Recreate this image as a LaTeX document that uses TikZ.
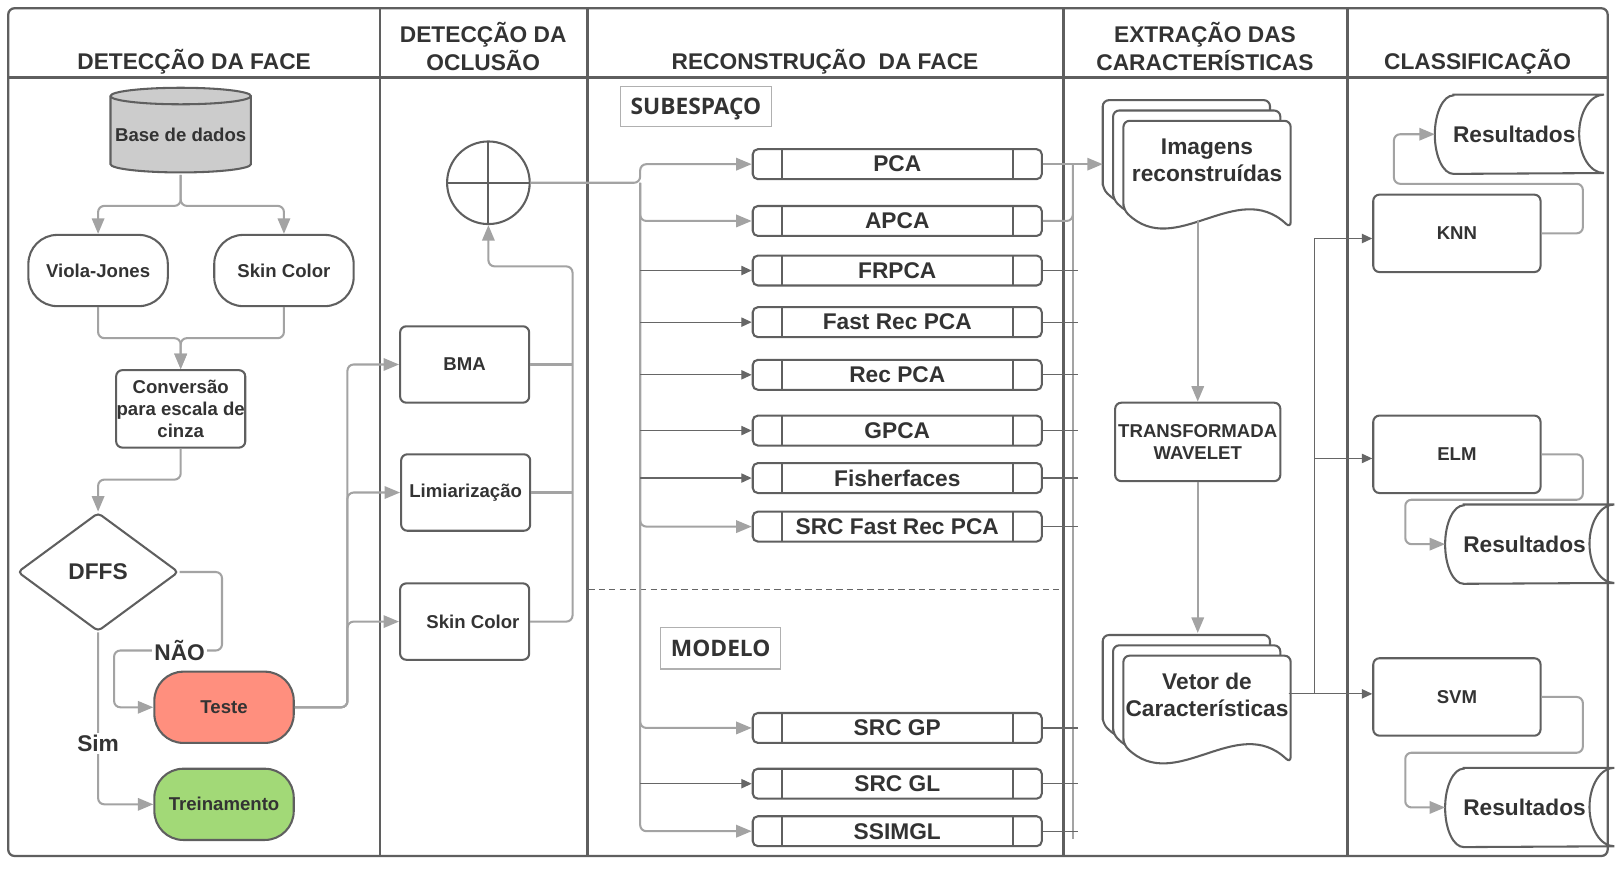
\documentclass[tikz,border=0pt]{standalone}
\usepackage{fontspec}
\setmainfont{Liberation Sans}
\newfontfamily\tagfont{Open Sans}
\usepackage{tikz}
\usetikzlibrary{shapes.geometric,arrows.meta}
\definecolor{txtgray}{HTML}{333333}
\definecolor{boxgray}{HTML}{5F5F5F}
\definecolor{conngray}{HTML}{A3A3A3}
\definecolor{darkline}{HTML}{666666}
\definecolor{tagline}{HTML}{B0B0B0}
\definecolor{dbfill}{HTML}{CCCCCC}
\definecolor{testefill}{HTML}{FF8F7E}
\definecolor{treinfill}{HTML}{A2D977}
\newcommand{\smallf}{\fontsize{9}{10.5}\selectfont\bfseries}
\newcommand{\bigf}{\fontsize{11}{13.5}\selectfont\bfseries}
\newcommand{\docpage}[2]{\draw[docline] (#1,#2+86) -- (#1,#2) -- (#1+162,#2) -- (#1+162,#2+104) .. controls (#1+110,#2+55) and (#1+50,#2+135) .. (#1,#2+86) -- cycle;}
\tikzstyle{frameline}=[draw=boxgray, line width=1.1pt]
\tikzstyle{boxline}=[draw=boxgray, line width=1pt]
\tikzstyle{docline}=[draw=boxgray, line width=1pt, fill=white, rounded corners=3pt]
\tikzstyle{conn}=[draw=conngray, line width=1pt, rounded corners=3pt, -{Triangle[length=7.5pt,width=6pt]}]
\tikzstyle{plainline}=[draw=conngray, line width=1pt, rounded corners=3pt]
\tikzstyle{thinarrow}=[draw=darkline, line width=0.6pt, -{Triangle[length=5pt,width=4.5pt]}]
\tikzstyle{thinline}=[draw=darkline, line width=0.6pt]
\tikzstyle{dashline}=[draw=darkline, line width=0.5pt, dash pattern=on 3pt off 2pt]
\tikzstyle{headtext}=[text=txtgray, font=\bigf, align=center, inner sep=0pt]

\begin{document}
\begin{tikzpicture}[x=0.5pt, y=-0.5pt]
\tikzstyle{plainbox}=[shape=rectangle, draw=boxgray, line width=1pt, rounded corners=3pt, minimum width=62.5pt, minimum height=37pt, inner sep=0pt, align=center, text=txtgray, font=\smallf]
\tikzstyle{stadium}=[shape=rectangle, draw=boxgray, line width=1pt, rounded corners=14pt, minimum width=67.5pt, minimum height=34.5pt, inner sep=0pt, text=txtgray, font=\smallf]
\tikzstyle{decision}=[shape=diamond, aspect=1.357, draw=boxgray, line width=1pt, rounded corners=2pt, minimum width=78pt, minimum height=57.5pt, inner sep=0pt, text=txtgray, font=\bigf]
\tikzstyle{sumnode}=[shape=circle, draw=boxgray, line width=1pt, minimum size=40pt, inner sep=0pt, path picture={\draw[boxgray, line width=1pt] (path picture bounding box.north) -- (path picture bounding box.south) (path picture bounding box.west) -- (path picture bounding box.east);}]
\tikzstyle{procbox}=[shape=rectangle, draw=boxgray, line width=1pt, rounded corners=2.5pt, minimum width=140pt, minimum height=14.5pt, inner sep=0pt, text=txtgray, font=\bigf, path picture={\draw[boxgray, line width=1pt] ([xshift=14pt]path picture bounding box.north west) -- ([xshift=14pt]path picture bounding box.south west) ([xshift=-14pt]path picture bounding box.north east) -- ([xshift=-14pt]path picture bounding box.south east);}]
\tikzstyle{tagbox}=[shape=rectangle, draw=tagline, line width=0.6pt, minimum width=73pt, minimum height=19.5pt, inner sep=0pt, text height=7.9pt, text depth=0pt, text=txtgray, font={\tagfont\fontsize{11}{13}\selectfont\bfseries}]
\tikzstyle{doctext}=[align=center, inner sep=0pt, text=txtgray, font={\fontsize{11}{13}\selectfont\bfseries}]
\tikzstyle{restext}=[shape=rectangle, minimum width=81.5pt, minimum height=38pt, inner sep=0pt, text=txtgray, font=\bigf]
\tikzstyle{lbl}=[fill=white, inner sep=1pt, text=txtgray, font=\bigf]
\useasboundingbox (0,0) rectangle (1568,841);
\draw[frameline, rounded corners=3pt] (8,8) rectangle (1557,829);
\draw[frameline] (8,75) -- (1557,75);
\draw[frameline] (368,8) -- (368,829);
\draw[frameline] (569,8) -- (569,829);
\draw[frameline] (1030,8) -- (1030,829);
\draw[frameline] (1305,8) -- (1305,829);
\node[headtext] (h1) at (188,60) {DETECÇÃO DA FACE};
\node[headtext] (h2) at (468,45) {DETECÇÃO DA\\OCLUSÃO};
\node[headtext] (h3) at (799,60) {RECONSTRUÇÃO~ DA FACE};
\node[headtext] (h4) at (1167,45) {EXTRAÇÃO DAS\\CARACTERÍSTICAS};
\node[headtext] (h5) at (1431,60) {CLASSIFICAÇÃO};

\draw[boxline, fill=dbfill] (107,93) -- (107,159) arc[start angle=180, end angle=360, x radius=34pt, y radius=4pt] -- (243,93) arc[start angle=0, end angle=180, x radius=34pt, y radius=4pt] -- cycle;
\draw[boxline] (107,93) arc[start angle=180, end angle=360, x radius=34pt, y radius=4pt];
\node[shape=rectangle, minimum width=68pt, minimum height=29pt, inner sep=0pt, text=txtgray, font=\smallf] (db) at (175,131) {Base de dados};
\node[stadium] (vj) at (95,262) {Viola-Jones};
\node[stadium] (skin1) at (275,262) {Skin Color};
\node[plainbox, minimum height=37.5pt] (conv) at (175,396) {Conversão\\para escala de\\cinza};
\node[decision] (dffs) at (95,554) {DFFS};
\node[stadium, fill=testefill] (teste) at (217,685) {Teste};
\node[stadium, fill=treinfill] (trein) at (217,779) {Treinamento};
\draw[conn] ([yshift=-4.5pt]db.south) -- ++(0,30) -| (vj.north);
\draw[conn] ([yshift=-4.5pt]db.south) -- ++(0,30) -| (skin1.north);
\draw[conn] (vj.south) -- ++(0,30) -| (conv.north);
\draw[conn] (skin1.south) -- ++(0,30) -| (conv.north);
\draw[conn] (conv.south) -- ++(0,30) -| (dffs.north);
\draw[conn] (dffs.east) -| ++(41,76) -| ([xshift=-19pt]teste.west) -- (teste.west);
\draw[conn] (dffs.south) |- (trein.west);
\node[lbl] (nao) at (174,630) {NÃO};
\node[lbl] (sim) at (95,720) {Sim};

\node[sumnode] (sum) at (473,177) {};
\node[plainbox] (bma) at (450,353) {BMA};
\node[plainbox] (lim) at (451,477) {Limiarização};
\node[plainbox] (skin2) at (450,602) {\hspace*{8pt}Skin Color};
\draw[conn] (teste.east) -- ++(51,0) |- (bma.west);
\draw[conn] (teste.east) -- ++(51,0) |- (lim.west);
\draw[conn] (teste.east) -- ++(51,0) |- (skin2.west);
\draw[plainline] (bma.east) -- ++(41,0);
\draw[plainline] (lim.east) -- ++(40,0);
\draw[conn] (skin2.east) -- ++(41,0) |- ([yshift=-20pt]sum.south) -- (sum.south);

\node[tagbox] (sub) at (674,103) {SUBESPAÇO};
\node[tagbox, minimum width=58pt, minimum height=20pt] (mod) at (698,628) {MODELO};
\node[procbox] (pca) at (869,159) {PCA};
\node[procbox] (apca) at (869,214) {APCA};
\node[procbox] (frpca) at (869,262) {FRPCA};
\node[procbox] (fast) at (869,312) {Fast Rec PCA};
\node[procbox] (rec) at (869,363) {Rec PCA};
\node[procbox] (gpca) at (869,417) {GPCA};
\node[procbox] (fisher) at (869,463) {Fisherfaces};
\node[procbox] (srcfast) at (869,510) {SRC Fast Rec PCA};
\node[procbox] (srcgp) at (869,705) {SRC GP};
\node[procbox] (srcgl) at (869,759) {SRC GL};
\node[procbox] (ssim) at (869,805) {SSIMGL};
\draw[dashline] (570,571) -- (1026,571);
\coordinate (bus) at (620,177);
\draw[conn] (sum.east) -- (bus) |- (pca.west);
\draw[conn] (bus) |- (apca.west);
\draw[conn] (bus) |- (srcfast.west);
\draw[conn] (bus) |- (srcgp.west);
\draw[conn] (bus) |- (ssim.west);
\draw[thinarrow] (bus |- frpca.west) -- (frpca.west);
\draw[thinarrow] (bus |- fast.west) -- (fast.west);
\draw[thinarrow] (bus |- rec.west) -- (rec.west);
\draw[thinarrow] (bus |- gpca.west) -- (gpca.west);
\draw[thinarrow] (bus |- fisher.west) -- (fisher.west);
\draw[thinarrow] (bus |- srcgl.west) -- (srcgl.west);

\docpage{1068}{97}
\docpage{1078}{107}
\docpage{1088}{117}
\node[doctext] (img) at (1169,155) {Imagens\\reconstruídas};
\docpage{1068}{615}
\docpage{1078}{625}
\docpage{1088}{635}
\node[doctext] (vet) at (1169,673) {Vetor de\\Características};
\node[plainbox, minimum width=80pt, minimum height=38pt, font={\fontsize{9}{11}\selectfont\bfseries}] (wav) at (1160,428) {TRANSFORMADA\\WAVELET};
\coordinate (imgin) at (1068,159);
\coordinate (imgout) at (1160,213);
\coordinate (vetin) at (1160,613);
\coordinate (vetout) at (1248,672);
\coordinate (gtop) at (1039,159);
\coordinate (gbot) at (1039,813);
\draw[plainline] (gtop) -- (gbot);
\draw[conn] (pca.east) -- (imgin);
\draw[plainline] (apca.east) -| (gtop);
\draw[thinline] (frpca.east) -- ++(34,0);
\draw[thinline] (fast.east) -- ++(34,0);
\draw[thinline] (rec.east) -- ++(34,0);
\draw[thinline] (gpca.east) -- ++(34,0);
\draw[thinline] (fisher.east) -- ++(34,0);
\draw[thinline] (srcfast.east) -- ++(34,0);
\draw[thinline] (srcgp.east) -- ++(34,0);
\draw[thinline] (srcgl.east) -- ++(34,0);
\draw[thinline] (ssim.east) -- ++(34,0);
\draw[conn] (imgout) -- (wav.north);
\draw[conn] (wav.south) -- (vetin);

\node[plainbox, minimum width=81pt, minimum height=37.5pt] (knn) at (1411,226) {KNN};
\node[plainbox, minimum width=81pt, minimum height=37.5pt] (elm) at (1411,440) {ELM};
\node[plainbox, minimum width=81pt, minimum height=37.5pt] (svm) at (1411,675) {SVM};
\draw[thinarrow] (vetout) -- ([yshift=1.5pt]svm.west);
\draw[thinarrow] (vetout) -- ++(25,0) |- ([yshift=-2.5pt]knn.west);
\draw[thinarrow] (vetout) -- ++(25,0) |- ([yshift=-2pt]elm.west);
\node[restext] (r1) at (1471.5,130) {\hspace*{-5pt}Resultados};
\node[restext] (r2) at (1481.5,527) {\hspace*{-5pt}Resultados};
\node[restext] (r3) at (1481.5,782) {\hspace*{-5pt}Resultados};
\draw[boxline] ([xshift=9pt]r1.north west) -- (r1.north east) arc[start angle=90, end angle=270, x radius=12pt, y radius=19pt] -- ([xshift=9pt]r1.south west) arc[start angle=270, end angle=90, x radius=9pt, y radius=19pt] -- cycle;
\draw[boxline] ([xshift=9pt]r2.north west) -- (r2.north east) arc[start angle=90, end angle=270, x radius=12pt, y radius=19pt] -- ([xshift=9pt]r2.south west) arc[start angle=270, end angle=90, x radius=9pt, y radius=19pt] -- cycle;
\draw[boxline] ([xshift=9pt]r3.north west) -- (r3.north east) arc[start angle=90, end angle=270, x radius=12pt, y radius=19pt] -- ([xshift=9pt]r3.south west) arc[start angle=270, end angle=90, x radius=9pt, y radius=19pt] -- cycle;
\draw[conn] (knn.east) -- ++(40,0) |- ++(-183,-48) |- (r1.west);
\draw[conn] (elm.east) -- ++(40,0) |- ++(-172,44) |- (r2.west);
\draw[conn] (svm.east) -- ++(40,0) |- ++(-172,54) |- (r3.west);
\end{tikzpicture}
\end{document}
